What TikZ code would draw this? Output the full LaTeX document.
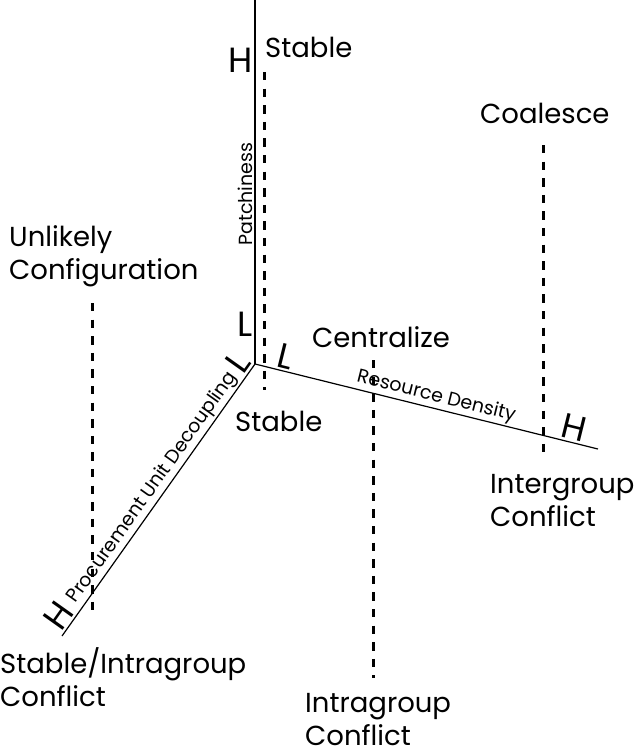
\documentclass[tikz,border=0pt]{standalone}
\usepackage{fontspec}
\setmainfont{Poppins}
\tikzstyle{axisline}=[line width=1.2pt]
\tikzstyle{guide}=[line width=3pt,dash pattern=on 8.3pt off 8.3pt]
\tikzstyle{lbl}=[font=\fontsize{27.5}{33}\selectfont,inner sep=0pt,align=left]
\tikzstyle{axlbl}=[font=\fontsize{19}{21}\selectfont,inner sep=1.5pt,sloped,above]
\tikzstyle{endmark}=[font=\fontsize{35}{35}\selectfont,inner sep=2pt]

\begin{document}
\begin{tikzpicture}[x=1pt,y=-1pt]
\useasboundingbox (0,0) rectangle (638,750);
% axes
\coordinate (orig) at (255,364);
\coordinate (ptop) at (255,0);
\coordinate (rend) at (598,449);
\coordinate (pend) at (62,636);
\draw[axisline] (orig) -- node[endmark,left,pos=0.11] (pl) {L}
    node[axlbl,pos=0.467] (patch) {Patchiness}
    node[endmark,left,pos=0.835] (ph) {H} (ptop);
\draw[axisline] (orig) -- node[endmark,sloped,above,pos=0.078] (rl) {L}
    node[axlbl,pos=0.52] (res) {Resource Density}
    node[endmark,sloped,above,pos=0.921] (rh) {H} (rend);
\draw[axisline] (pend) -- node[endmark,sloped,above,pos=0.045] (dh) {H}
    node[axlbl,pos=0.52] (dec) {Procurement Unit Decoupling}
    node[endmark,sloped,above,pos=0.975] (dl) {L} (orig);
% outcomes (base = last line)
\node[lbl,anchor=base west] (stabtop) at (265,57) {Stable};
\node[lbl,anchor=base west] (stabbot) at (235,431) {Stable};
\node[lbl,anchor=base west] (coal) at (480,123) {Coalesce};
\node[lbl,anchor=base west] (cent) at (312,347) {Centralize};
\node[lbl,anchor=base west] (unlik) at (9,279) {Unlikely\\Configuration};
\node[lbl,anchor=base west] (inter) at (490,526) {Intergroup\\Conflict};
\node[lbl,anchor=base west] (stabintra) at (0,706) {Stable/Intragroup\\Conflict};
\node[lbl,anchor=base west] (intra) at (305,745) {Intragroup\\Conflict};
% guides
\coordinate (g1a) at (264,72);  \coordinate (g1b) at (264,390);
\coordinate (g2a) at (92,303);  \coordinate (g2b) at (92,615);
\coordinate (g3a) at (373,360); \coordinate (g3b) at (373,678);
\coordinate (g4a) at (543,145); \coordinate (g4b) at (543,460);
\draw[guide] (g1a) -- (g1b);
\draw[guide] (g2a) -- (g2b);
\draw[guide] (g3a) -- (g3b);
\draw[guide] (g4a) -- (g4b);
\end{tikzpicture}
\end{document}
